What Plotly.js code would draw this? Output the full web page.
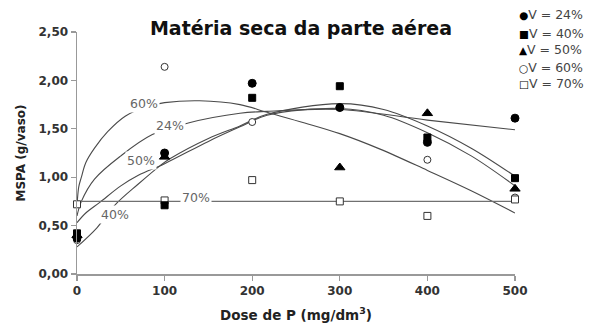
<!DOCTYPE html>
<html>
<head>
<meta charset="utf-8">
<script src="https://cdn.plot.ly/plotly-3.0.1.min.js"></script>
<style>html,body{margin:0;padding:0;background:#fff;}#chart{width:589px;height:326px;}</style>
</head>
<body>
<div id="chart"></div>
<script>
// Observed data (dose of P, mg/dm3) and dry-matter values (g/vaso)
var dose = [0, 100, 200, 300, 400, 500];
var v24 = [0.37, 1.25, 1.97, 1.72, 1.36, 1.61];
var v40 = [0.42, 0.71, 1.82, 1.94, 1.41, 0.99];
var v50 = [0.40, 1.21, null, 1.10, 1.66, 0.88];
var v60 = [0.35, 2.14, 1.57, 1.72, 1.18, 0.79];
var v70 = [0.72, 0.76, 0.97, 0.75, 0.60, 0.77];

// Fitted trend curves
var c60x = [0, 2, 5, 10, 20, 35, 55, 80, 100, 140, 186, 217, 260, 300, 346, 400, 450, 500];
var c60y = [0.70, 0.90, 1.00, 1.15, 1.30, 1.47, 1.63, 1.73, 1.77, 1.79, 1.75, 1.67, 1.56, 1.45, 1.29, 1.07, 0.86, 0.63];
var c24x = [0, 5, 20, 50, 86, 127, 186, 217, 300, 400, 500];
var c24y = [0.60, 0.75, 0.98, 1.22, 1.44, 1.56, 1.66, 1.68, 1.70, 1.59, 1.49];
var c50x = [0, 10, 26, 50, 70, 100, 150, 186, 217, 300, 350, 400, 450, 500];
var c50y = [0.53, 0.63, 0.74, 0.91, 1.02, 1.14, 1.37, 1.52, 1.64, 1.71, 1.64, 1.46, 1.22, 0.91];
var c40x = [0, 23, 43, 70, 95, 106, 150, 186, 217, 300, 350, 400, 450, 500];
var c40y = [0.28, 0.48, 0.71, 0.93, 1.12, 1.19, 1.40, 1.53, 1.65, 1.76, 1.70, 1.53, 1.30, 1.01];
var c70x = [0, 500];
var c70y = [0.75, 0.75];

var seriesNames = ['V = 24%', 'V = 40%', 'V = 50%', 'V = 60%', 'V = 70%'];
var legendGlyphs = ['\u25CF', '\u25A0', '\u25B2', '\u25CB', '\u25A1'];
var curveLabels = ['60%', '24%', '50%', '40%', '70%'];
var curveLabelX = [76, 106, 73, 43, 136];
var curveLabelY = [1.76, 1.53, 1.17, 0.61, 0.79];

var FONT = 'DejaVu Sans, Verdana, sans-serif';
var lineCol = '#4a4a4a';
function curve(x, y) {
  return {x: x, y: y, mode: 'lines', type: 'scatter', showlegend: false, hoverinfo: 'skip',
          line: {color: lineCol, width: 1.1, shape: 'spline', smoothing: 1}};
}
function pts(y, name, symbol, size, open) {
  return {x: dose, y: y, name: name, mode: 'markers', type: 'scatter', cliponaxis: false,
          showlegend: false,
          marker: {symbol: symbol, size: size, color: open ? '#ffffff' : '#000000',
                   line: {color: open ? '#333333' : '#000000', width: 1}}};
}
var traces = [
  curve(c60x, c60y), curve(c24x, c24y), curve(c50x, c50y), curve(c40x, c40y),
  {x: c70x, y: c70y, mode: 'lines', type: 'scatter', showlegend: false, hoverinfo: 'skip',
   line: {color: '#707070', width: 1.4}},
  pts(v50, seriesNames[2], 'triangle-up', 9, false),
  pts(v60, seriesNames[3], 'circle', 7, true),
  pts(v70, seriesNames[4], 'square', 7, true),
  pts(v40, seriesNames[1], 'square', 7, false),
  pts(v24, seriesNames[0], 'circle', 8, false)
];

var annotations = curveLabels.map(function(t, i){
  return {x: curveLabelX[i], y: curveLabelY[i], xref: 'x', yref: 'y', text: t, showarrow: false,
          font: {family: FONT, size: 12.5, color: '#666'},
          bgcolor: '#ffffff', borderpad: 1};
});
// legend entries (top right)
var legendRowsPx = [15, 33, 50, 67, 84];
seriesNames.forEach(function(n, i){
  annotations.push({x: (517 - 77) / 438, y: (274 - legendRowsPx[i]) / 242, xref: 'paper', yref: 'paper',
    xanchor: 'left', yanchor: 'middle', showarrow: false, align: 'left',
    text: '<span style="color:#000;font-size:10.5px">' + legendGlyphs[i] + '</span>' + n,
    font: {family: FONT, size: 12.5, color: '#444'}});
});

var layout = {
  width: 589, height: 326,
  margin: {l: 77, r: 74, t: 32, b: 52, autoexpand: false},
  paper_bgcolor: '#fff', plot_bgcolor: '#fff',
  font: {family: FONT, color: '#222'},
  title: {text: '<b>Matéria seca da parte aérea</b>', x: 0.511, xref: 'container', xanchor: 'center',
          y: 0.913, yref: 'container', yanchor: 'middle',
          font: {size: 19, color: '#111', family: FONT}},
  xaxis: {range: [0, 500], tickvals: dose, ticktext: ['0','100','200','300','400','500'],
          showgrid: false, zeroline: false, showline: true, linecolor: '#999', linewidth: 1.5,
          ticks: 'outside', ticklen: 5, tickcolor: '#999', tickwidth: 1.2,
          tickfont: {size: 12, color: '#333', weight: 'bold', family: FONT},
          title: {text: '<b>Dose de P (mg/dm<sup>3</sup>)</b>', standoff: 13, font: {size: 13.5, color: '#222', family: FONT}}},
  yaxis: {range: [0, 2.5], tickvals: [0, 0.5, 1, 1.5, 2, 2.5], tickformat: '.2f',
          showgrid: false, zeroline: false, showline: true, linecolor: '#999', linewidth: 1.5,
          ticks: 'outside', ticklen: 5, tickcolor: '#999', tickwidth: 1.2,
          tickfont: {size: 12, color: '#333', weight: 'bold', family: FONT},
          title: {text: '<b>MSPA (g/vaso)</b>', standoff: 10, font: {size: 12, color: '#222', family: FONT}}},
  separators: ',.',
  showlegend: false,
  annotations: annotations
};
Plotly.newPlot('chart', traces, layout, {displayModeBar: false, staticPlot: true});
</script>
</body>
</html>
